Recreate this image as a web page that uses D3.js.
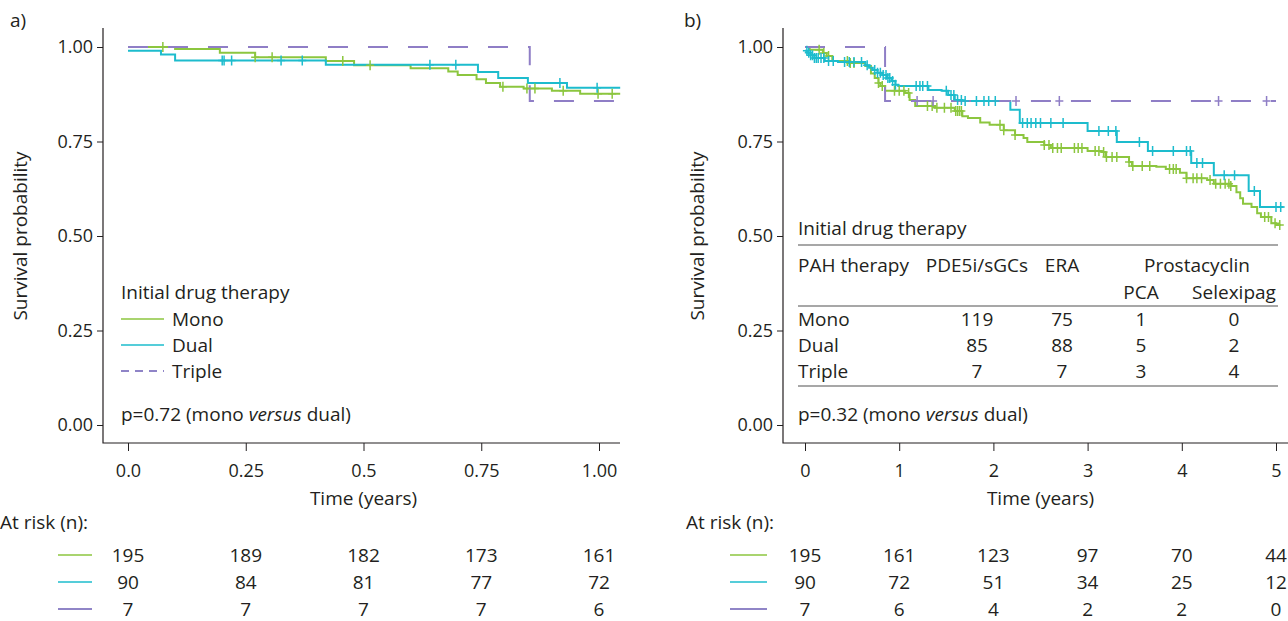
<!DOCTYPE html>
<html>
<head>
<meta charset="utf-8">
<script src="https://cdn.jsdelivr.net/npm/d3@7"></script>
<style>
	body { margin: 0; background: #fff; }
	svg text { font-family: 'Open Sans', 'Noto Sans', sans-serif; fill: #231f20; }
</style>
</head>
<body>
<div id="js_chart"></div>
<script>
/*globals d3*/
'use strict';

// ---- data ----
const yTicks = [0, 0.25, 0.5, 0.75, 1];
const yTickLabels = ['0.00', '0.25', '0.50', '0.75', '1.00'];

const leftTicks = [0, 0.25, 0.5, 0.75, 1];
const leftTickLabels = ['0.0', '0.25', '0.5', '0.75', '1.00'];
const rightTicks = [0, 1, 2, 3, 4, 5];
const rightTickLabels = ['0', '1', '2', '3', '4', '5'];

const groups = ['Mono', 'Dual', 'Triple'];

// panel a) steps [time, survival]
const leftMono = [[0, 1], [0.10, 0.995], [0.195, 0.985], [0.27, 0.973], [0.42, 0.963], [0.48, 0.952],
	[0.60, 0.944], [0.68, 0.935], [0.70, 0.926], [0.74, 0.915], [0.76, 0.905], [0.79, 0.895],
	[0.84, 0.89], [0.90, 0.884], [0.96, 0.876], [1.045, 0.876]];
const leftDual = [[0, 0.99], [0.07, 0.98], [0.10, 0.964], [0.42, 0.953], [0.743, 0.934], [0.786, 0.918],
	[0.849, 0.905], [0.932, 0.892], [1.045, 0.892]];
const leftTriple = [[0, 1], [0.853, 0.857], [1.045, 0.857]];
const leftMonoCens = [0.074, 0.27, 0.306, 0.456, 0.514, 0.796, 0.847, 0.864, 0.924, 0.998, 1.028];
const leftDualCens = [0.20, 0.204, 0.22, 0.325, 0.37, 0.641, 0.696, 0.917, 0.996];
const leftTripleCens = [];

// panel b)
const rightMono = [[0, 1], [0.05, 0.993], [0.19, 0.984], [0.23, 0.976], [0.29, 0.963], [0.46, 0.958],
	[0.64, 0.95], [0.70, 0.93], [0.74, 0.918], [0.78, 0.905], [0.80, 0.897], [0.85, 0.884],
	[1.06, 0.878], [1.11, 0.86], [1.17, 0.844], [1.38, 0.839], [1.59, 0.831], [1.67, 0.817],
	[1.73, 0.812], [1.86, 0.80], [1.96, 0.794], [2.11, 0.78], [2.23, 0.767], [2.32, 0.759],
	[2.36, 0.749], [2.54, 0.741], [2.61, 0.733], [3.0, 0.725], [3.15, 0.722], [3.19, 0.709],
	[3.44, 0.696], [3.47, 0.685], [3.73, 0.683], [3.83, 0.677], [3.98, 0.667], [4.05, 0.653],
	[4.27, 0.648], [4.34, 0.638], [4.52, 0.632], [4.58, 0.616], [4.62, 0.60], [4.65, 0.585],
	[4.74, 0.577], [4.80, 0.56], [4.84, 0.55], [4.95, 0.534], [5.0, 0.529], [5.05, 0.529]];
const rightDual = [[0, 0.99], [0.03, 0.985], [0.06, 0.978], [0.1, 0.971], [0.21, 0.963], [0.35, 0.96],
	[0.64, 0.952], [0.68, 0.945], [0.72, 0.939], [0.77, 0.932], [0.82, 0.926], [0.87, 0.918],
	[0.92, 0.91], [0.96, 0.9], [0.99, 0.897], [1.31, 0.886], [1.45, 0.884], [1.52, 0.873],
	[1.59, 0.86], [1.67, 0.857], [2.18, 0.834], [2.28, 0.799], [3.0, 0.778], [3.31, 0.749],
	[3.64, 0.725], [4.1, 0.693], [4.34, 0.661], [4.71, 0.619], [4.83, 0.577], [5.08, 0.577]];
const rightTriple = [[0, 1], [0.85, 0.857], [5.0, 0.857]];
const rightMonoCens = [0.15, 0.2, 0.25, 0.45, 0.48, 0.52, 0.78, 0.82, 0.95, 1.0, 1.05, 1.1, 1.3, 1.35,
	1.4, 1.48, 1.55, 1.6, 1.62, 1.64, 1.66, 2.07, 2.11, 2.23, 2.54, 2.59, 2.63, 2.68, 2.72, 2.86, 2.9,
	2.94, 3.08, 3.12, 3.17, 3.2, 3.26, 3.31, 3.44, 3.48, 3.58, 3.66, 3.87, 3.91, 3.94, 4.05, 4.12,
	4.16, 4.21, 4.3, 4.36, 4.41, 4.46, 4.5, 4.52, 4.88, 4.92, 4.99, 5.04];
const rightDualCens = [0.02, 0.04, 0.06, 0.08, 0.1, 0.12, 0.14, 0.17, 0.2, 0.25, 0.3, 0.42, 0.47, 0.52,
	0.6, 0.66, 0.74, 0.77, 0.8, 0.83, 0.86, 0.88, 0.9, 0.93, 0.96, 1.18, 1.22, 1.25, 1.3, 1.5, 1.55,
	1.58, 1.62, 1.66, 1.7, 1.82, 1.9, 1.95, 2.02, 2.31, 2.36, 2.4, 2.45, 2.5, 2.61, 2.74, 3.12, 3.22,
	3.3, 3.55, 3.69, 3.91, 4.05, 4.09, 4.16, 4.22, 4.45, 4.56, 4.77, 5.0, 5.05];
const rightTripleCens = [1.19, 1.36, 2.24, 2.70, 4.39, 4.90];

// numbers at risk
const leftAtRisk = [[195, 189, 182, 173, 161], [90, 84, 81, 77, 72], [7, 7, 7, 7, 6]];
const rightAtRisk = [[195, 161, 123, 97, 70, 44], [90, 72, 51, 34, 25, 12], [7, 6, 4, 2, 2, 0]];

// drug table (panel b)
const tableHeader = ['PAH therapy', 'PDE5i/sGCs', 'ERA', 'Prostacyclin'];
const tableSubHeader = ['PCA', 'Selexipag'];
const tableRows = [['Mono', 119, 75, 1, 0], ['Dual', 85, 88, 5, 2], ['Triple', 7, 7, 3, 4]];

// ---- drawing ----
const colors = ['#8cc63f', '#1dbccd', '#8f7ec6'];
const riskLineColors = ['#8cc63f', '#1dbccd', '#6b5cb5'];
const fontSize = 19;
const tickFontSize = 18;
const W = 1288, H = 621;

const svg = d3.select('#js_chart').append('svg')
	.attr('width', W)
	.attr('height', H);

const yScale = d3.scaleLinear().domain([0, 1]).range([425, 47]);

function addText(x, y, txt, anchor) {
	return svg.append('text')
		.attr('x', x).attr('y', y).attr('dy', '0.35em')
		.attr('text-anchor', anchor || 'start')
		.style('font-size', fontSize + 'px')
		.text(txt);
}

function drawAxes(x, opt) {
	const g = svg.append('g');
	// y axis
	const yAxis = g.append('g')
		.attr('transform', 'translate(' + opt.axisX + ',0)')
		.call(d3.axisLeft(yScale).tickValues(yTicks).tickFormat((d, i) => yTickLabels[i])
			.tickSize(6).tickPadding(4));
	yAxis.select('.domain').remove();
	// x axis
	const xAxis = g.append('g')
		.attr('transform', 'translate(0,' + opt.axisY + ')')
		.call(d3.axisBottom(x).tickValues(opt.ticks).tickFormat((d, i) => opt.tickLabels[i])
			.tickSize(8).tickPadding(13));
	xAxis.select('.domain').remove();
	g.selectAll('.tick line').attr('stroke', '#231f20');
	g.selectAll('.tick text').style('font-size', tickFontSize + 'px').attr('fill', '#231f20');
	// axis lines
	g.append('path')
		.attr('d', 'M' + opt.axisX + ',28V' + opt.axisY + 'H' + opt.axisEnd)
		.attr('fill', 'none')
		.attr('stroke', '#231f20')
		.attr('stroke-width', 1.2);
	// labels
	svg.append('text')
		.attr('transform', 'translate(' + opt.yTitleX + ',236) rotate(-90)')
		.attr('text-anchor', 'middle')
		.attr('dy', '0.35em')
		.style('font-size', fontSize + 'px')
		.text('Survival probability');
	addText((x(opt.ticks[0]) + x(opt.ticks[opt.ticks.length - 1])) / 2, 498, 'Time (years)', 'middle');
	addText(opt.letterX, 20, opt.letter);
}

function drawCurves(x, curves, cens) {
	const line = d3.line()
		.x(d => x(d[0]))
		.y(d => yScale(d[1]))
		.curve(d3.curveStepAfter);
	curves.forEach(function (c, i) {
		svg.append('path')
			.datum(c)
			.attr('d', line)
			.attr('fill', 'none')
			.attr('stroke', colors[i])
			.attr('stroke-width', 2)
			.attr('stroke-dasharray', i === 2 ? '20,20' : null);
	});
	cens.forEach(function (times, i) {
		const curve = curves[i];
		svg.append('g').selectAll('path')
			.data(times).enter().append('path')
			.attr('d', function (t) {
				let v = curve[0][1];
				for (let k = 0; k < curve.length; k++) {
					if (curve[k][0] <= t) v = curve[k][1];
				}
				const px = x(t), py = yScale(v);
				return 'M' + (px - 4) + ',' + py + 'h8M' + px + ',' + (py - 5) + 'v10';
			})
			.attr('stroke', colors[i])
			.attr('stroke-width', 1.5)
			.attr('fill', 'none');
	});
}

function drawAtRisk(x, ticks, atRisk, labelX, lineX0, lineX1) {
	addText(labelX, 522, 'At risk (n):');
	const rowY = [555, 582, 609];
	atRisk.forEach(function (row, i) {
		svg.append('line')
			.attr('x1', lineX0).attr('x2', lineX1)
			.attr('y1', rowY[i]).attr('y2', rowY[i])
			.attr('stroke', riskLineColors[i])
			.attr('stroke-width', 1.5);
		row.forEach(function (n, j) {
			addText(x(ticks[j]), rowY[i], n, 'middle');
		});
	});
}

function drawPValue(x0, p) {
	const t = addText(x0, 414, null);
	t.append('tspan').text('p=' + p + ' (mono ');
	t.append('tspan').style('font-style', 'italic').text('versus');
	t.append('tspan').text(' dual)');
}

// panel a)
const xLeft = d3.scaleLinear().domain([0, 1]).range([128, 599]);
drawAxes(xLeft, {
	axisX: 103, axisY: 443, axisEnd: 620, ticks: leftTicks, tickLabels: leftTickLabels,
	yTitleX: 20, letterX: 10, letter: 'a)'
});
drawCurves(xLeft, [leftMono, leftDual, leftTriple], [leftMonoCens, leftDualCens, leftTripleCens]);
drawAtRisk(xLeft, leftTicks, leftAtRisk, 0, 58, 92);

// legend a)
addText(121, 292, 'Initial drug therapy');
groups.forEach(function (name, i) {
	const ly = 319 + i * 26;
	svg.append('line')
		.attr('x1', 121).attr('x2', 164)
		.attr('y1', ly).attr('y2', ly)
		.attr('stroke', i === 2 ? riskLineColors[2] : colors[i])
		.attr('stroke-width', 1.5)
		.attr('stroke-dasharray', i === 2 ? '8,6' : null);
	addText(172, ly, name);
});
drawPValue(121, '0.72');

// panel b)
const xRight = d3.scaleLinear().domain([0, 5]).range([805, 1276]);
drawAxes(xRight, {
	axisX: 783, axisY: 443, axisEnd: 1300, ticks: rightTicks, tickLabels: rightTickLabels,
	yTitleX: 697, letterX: 684, letter: 'b)'
});
drawCurves(xRight, [rightMono, rightDual, rightTriple], [rightMonoCens, rightDualCens, rightTripleCens]);
drawAtRisk(xRight, rightTicks, rightAtRisk, 686, 730, 767);

// drug table b)
const tX0 = 798, tX1 = 1278;
const colX = [977, 1062, 1141, 1234];
addText(tX0, 228, 'Initial drug therapy');
[245, 306, 386].forEach(function (ly) {
	svg.append('line')
		.attr('x1', tX0).attr('x2', tX1)
		.attr('y1', ly).attr('y2', ly)
		.attr('stroke', '#8a8a8a')
		.attr('stroke-width', 1.5);
});
addText(tX0, 265, tableHeader[0]);
addText(colX[0], 265, tableHeader[1], 'middle');
addText(colX[1], 265, tableHeader[2], 'middle');
addText(1197, 265, tableHeader[3], 'middle');
tableSubHeader.forEach(function (s, i) {
	addText(colX[2 + i], 292, s, 'middle');
});
tableRows.forEach(function (row, i) {
	const ry = 319 + i * 26;
	addText(tX0, ry, row[0]);
	row.slice(1).forEach(function (d, j) {
		addText(colX[j], ry, d, 'middle');
	});
});
drawPValue(798, '0.32');
</script>
</body>
</html>
